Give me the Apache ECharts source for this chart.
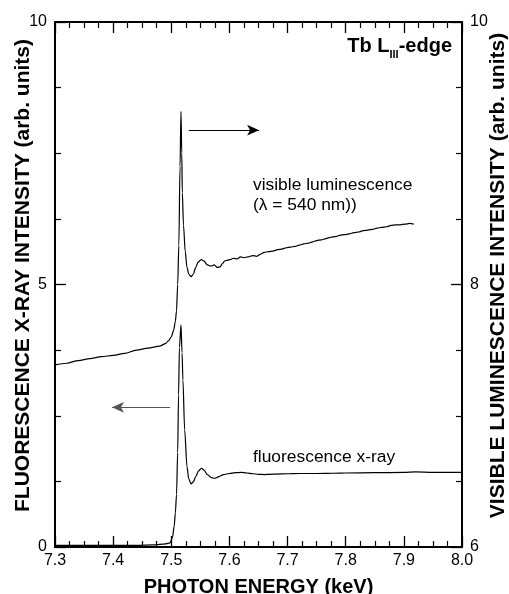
<!DOCTYPE html>
<html>
<head>
<meta charset="utf-8">
<script src="https://cdn.jsdelivr.net/npm/echarts@6/dist/echarts.min.js"></script>
<style>
  html, body { margin: 0; padding: 0; background: #fff; }
  #chart { width: 509px; height: 594px; }
</style>
</head>
<body>
<div id="chart"></div>
<script>
// fluorescence x-ray (left axis)
var fluoX = [7.30, 7.35, 7.40, 7.44, 7.47, 7.49, 7.498, 7.502, 7.505, 7.507, 7.509, 7.511, 7.5125, 7.514, 7.5167,
  7.5185, 7.520, 7.523, 7.527, 7.530, 7.534, 7.538, 7.542, 7.547, 7.5516, 7.556, 7.562, 7.569, 7.575, 7.582,
  7.590, 7.600, 7.610, 7.620, 7.630, 7.640, 7.650, 7.660, 7.670, 7.680, 7.700, 7.720, 7.750, 7.780, 7.800,
  7.850, 7.900, 7.920, 7.950, 8.000];
var fluoY = [0.03, 0.03, 0.03, 0.03, 0.04, 0.06, 0.08, 0.18, 0.40, 0.65, 1.00, 1.80, 2.90, 3.80, 4.23,
  3.70, 3.18, 2.23, 1.53, 1.30, 1.20, 1.24, 1.34, 1.45, 1.50, 1.47, 1.38, 1.32, 1.31, 1.34,
  1.38, 1.40, 1.415, 1.42, 1.41, 1.395, 1.385, 1.38, 1.385, 1.39, 1.395, 1.40, 1.40, 1.405, 1.41,
  1.415, 1.42, 1.43, 1.42, 1.42];

// visible luminescence, lambda = 540 nm (right axis)
var lumX = [7.30, 7.32, 7.34, 7.36, 7.38, 7.40, 7.42, 7.44, 7.46, 7.48, 7.49, 7.495, 7.50, 7.504, 7.507, 7.509,
  7.511, 7.513, 7.515, 7.5167, 7.518, 7.519, 7.521, 7.524, 7.527, 7.530, 7.534, 7.538, 7.542, 7.546, 7.5515,
  7.556, 7.562, 7.568, 7.574, 7.579, 7.584, 7.588, 7.592, 7.597, 7.601, 7.607, 7.613, 7.619, 7.625, 7.632,
  7.640, 7.647, 7.653, 7.660, 7.667, 7.675, 7.683, 7.690, 7.698, 7.705, 7.713, 7.720, 7.728, 7.736, 7.743,
  7.750, 7.758, 7.766, 7.774, 7.782, 7.790, 7.798, 7.806, 7.814, 7.822, 7.830, 7.838, 7.846, 7.854, 7.862,
  7.870, 7.878, 7.886, 7.894, 7.902, 7.910, 7.917];
var lumY = [7.387, 7.40, 7.42, 7.435, 7.45, 7.46, 7.475, 7.50, 7.515, 7.53, 7.55, 7.57, 7.60, 7.65, 7.72, 7.80,
  8.00, 8.30, 8.90, 9.32, 9.00, 8.70, 8.45, 8.25, 8.13, 8.08, 8.06, 8.08, 8.13, 8.17, 8.19,
  8.18, 8.15, 8.14, 8.15, 8.13, 8.135, 8.16, 8.18, 8.185, 8.19, 8.20, 8.195, 8.21, 8.205, 8.21,
  8.22, 8.215, 8.23, 8.245, 8.25, 8.255, 8.265, 8.27, 8.28, 8.285, 8.29, 8.30, 8.31, 8.315, 8.325,
  8.335, 8.34, 8.35, 8.36, 8.365, 8.375, 8.38, 8.385, 8.395, 8.40, 8.41, 8.415, 8.42, 8.43, 8.435,
  8.44, 8.45, 8.455, 8.455, 8.46, 8.465, 8.46];

// arrows [x from, x to, y] in left-axis units
var arrowRight = [7.530, 7.651, 7.94];
var arrowLeft = [7.498, 7.398, 2.66];

function pairs(xs, ys) {
  return xs.map(function (x, i) { return [x, ys[i]]; });
}

var font = "'Liberation Sans', Arial, Helvetica, sans-serif";
var myChart = echarts.init(document.getElementById('chart'));

var tickCommon = {
  axisLine: { onZero: false, lineStyle: { color: '#000', width: 2 } },
  axisTick: { inside: true, length: 11, lineStyle: { color: '#000', width: 1.3 } },
  minorTick: { show: true, splitNumber: 4, length: 6, lineStyle: { color: '#000', width: 1.2 } },
  splitLine: { show: false },
  minorSplitLine: { show: false }
};

myChart.setOption({
  animation: false,
  textStyle: { fontFamily: font },
  grid: { left: 55, right: 47, top: 22, bottom: 47, containLabel: false, outerBoundsMode: 'none' },
  xAxis: [
    Object.assign({
      type: 'value', position: 'bottom', min: 7.3, max: 8.0, interval: 0.1,
      axisLabel: { fontSize: 16, color: '#000', margin: 6, fontFamily: font,
        formatter: function (v) { return v.toFixed(1); } },
      name: 'PHOTON ENERGY (keV)', nameLocation: 'middle', nameGap: 30,
      nameTextStyle: { fontSize: 20, fontWeight: 'bold', color: '#000', fontFamily: font }
    }, tickCommon),
    Object.assign({
      type: 'value', position: 'top', min: 7.3, max: 8.0, interval: 0.1,
      axisLabel: { show: false }
    }, tickCommon)
  ],
  yAxis: [
    Object.assign({
      type: 'value', position: 'left', min: 0, max: 10, interval: 5,
      axisLabel: { fontSize: 16, color: '#000', margin: 8, fontFamily: font },
      name: 'FLUORESCENCE X-RAY INTENSITY (arb. units)', nameLocation: 'middle', nameGap: 21,
      nameRotate: 90, nameMoveOverlap: false,
      nameTextStyle: { fontSize: 21, fontWeight: 'bold', color: '#000', fontFamily: font, padding: [0, 0, 0, 18] }
    }, tickCommon),
    Object.assign({
      type: 'value', position: 'right', min: 6, max: 10, interval: 2,
      axisLabel: { fontSize: 16, color: '#000', margin: 8, fontFamily: font },
      name: 'VISIBLE LUMINESCENCE INTENSITY (arb. units)', nameLocation: 'middle', nameGap: 26,
      nameRotate: 90, nameMoveOverlap: false,
      nameTextStyle: { fontSize: 21, fontWeight: 'bold', color: '#000', fontFamily: font, padding: [0, 0, 0, 18] }
    }, tickCommon)
  ],
  series: [
    {
      name: 'fluorescence x-ray',
      type: 'line',
      xAxisIndex: 0,
      yAxisIndex: 0,
      data: pairs(fluoX, fluoY),
      showSymbol: false,
      smooth: 0.3,
      smoothMonotone: 'x',
      lineStyle: { color: '#000', width: 1.2 },
      markLine: {
        silent: true,
        symbol: ['none', 'arrow'],
        symbolSize: [8, 12],
        label: { show: false },
        lineStyle: { color: '#000', width: 1.2, type: 'solid' },
        data: [
          [{ coord: [arrowRight[0], arrowRight[2]] }, { coord: [arrowRight[1], arrowRight[2]] }],
          [{ coord: [arrowLeft[0], arrowLeft[2]], lineStyle: { color: '#555' } }, { coord: [arrowLeft[1], arrowLeft[2]] }]
        ]
      }
    },
    {
      name: 'visible luminescence',
      type: 'line',
      xAxisIndex: 0,
      yAxisIndex: 1,
      data: pairs(lumX, lumY),
      showSymbol: false,
      smooth: 0.3,
      smoothMonotone: 'x',
      lineStyle: { color: '#000', width: 1.2 }
    }
  ],
  graphic: [
    {
      type: 'text', right: 57, top: 36,
      style: {
        text: '{b|Tb L}{s|III}{b|-edge}',
        fill: '#000',
        rich: {
          b: { fontSize: 20, fontWeight: 'bold', fontFamily: font, lineHeight: 22, verticalAlign: 'bottom' },
          s: { fontSize: 11, fontWeight: 'bold', fontFamily: font, lineHeight: 9, verticalAlign: 'bottom', padding: [0, 0, -4, 0] }
        }
      }
    },
    {
      type: 'text', left: 253, top: 177,
      style: { text: 'visible luminescence', fontSize: 17.4, fontFamily: font, fill: '#000' }
    },
    {
      type: 'text', left: 253, top: 197,
      style: { text: '(\u03bb = 540 nm))', fontSize: 17.4, fontFamily: font, fill: '#000' }
    },
    {
      type: 'text', left: 253, top: 449,
      style: { text: 'fluorescence x-ray', fontSize: 17.4, fontFamily: font, fill: '#000' }
    }
  ]
});

window.addEventListener('resize', function () {
  if (myChart) {
    myChart.resize();
  }
});
</script>
</body>
</html>
